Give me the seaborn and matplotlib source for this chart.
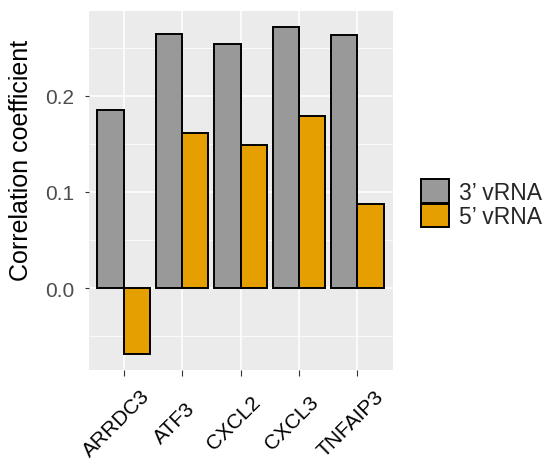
import matplotlib
matplotlib.use("Agg")
import matplotlib.pyplot as plt
import matplotlib.transforms as mtransforms
from matplotlib.patches import Patch
import seaborn as sns
import pandas as pd
import numpy as np

genes = ["ARRDC3", "ATF3", "CXCL2", "CXCL3", "TNFAIP3"]
vrna3 = [0.185, 0.264, 0.254, 0.271, 0.263]
vrna5 = [-0.068, 0.161, 0.149, 0.179, 0.087]
series = ["3\u2019 vRNA", "5\u2019 vRNA"]
colors = ["#999999", "#E69F00"]
yticks = [0.0, 0.1, 0.2]
ytick_labels = ["0.0", "0.1", "0.2"]

df = pd.DataFrame({
    "gene": genes * 2,
    "value": vrna3 + vrna5,
    "series": [series[0]] * len(genes) + [series[1]] * len(genes),
})

sns.set_theme(style="white")
plt.rcParams["font.family"] = ["Liberation Sans", "DejaVu Sans"]

W, H = 554, 464
AX_L, AX_R, AX_T, AX_B = 88.5, 392.5, 12, 371
fig = plt.figure(figsize=(W / 100, H / 100), dpi=100)
ax = fig.add_axes([AX_L / W, 1 - AX_B / H, (AX_R - AX_L) / W, (AX_B - AX_T) / H])
ax.set_facecolor("#EBEBEB")

sns.barplot(data=df, x="gene", y="value", hue="series", order=genes,
            hue_order=series, palette=colors, saturation=1, width=0.9,
            edgecolor="black", linewidth=1.4, ax=ax, legend=False, zorder=3)

allv = vrna3 + vrna5 + [0]
lo, hi = min(allv), max(allv)
pad = 0.05 * (hi - lo)
ax.set_ylim(lo - pad, hi + pad)
ax.set_xlim(-0.6, len(genes) - 0.4)

ax.set_yticks(yticks)
ax.set_yticklabels(ytick_labels)
minor = [-0.05, 0.05, 0.15, 0.25]
ax.set_yticks(minor, minor=True)
ax.grid(True, which="major", color="white", linewidth=1.1, zorder=0)
ax.grid(True, which="minor", axis="y", color="white", linewidth=0.55, zorder=0)
ax.set_axisbelow(True)
for s in ax.spines.values():
    s.set_visible(False)

ax.tick_params(axis="y", which="major", length=3, width=0.8, color="#333333",
               pad=7, labelsize=15, labelcolor="#4D4D4D", left=True)
ax.tick_params(axis="y", which="minor", length=0)
ax.tick_params(axis="x", which="major", length=4, width=0.8, color="#333333",
               pad=34, labelsize=15, labelcolor="black", bottom=True)

for lab in ax.get_xticklabels():
    lab.set_rotation(45)
    lab.set_ha("center")
    lab.set_va("center")
    lab.set_rotation_mode("anchor")
    lab.set_transform(lab.get_transform() +
                      mtransforms.ScaledTranslation(-0.07, 0, fig.dpi_scale_trans))

ax.set_xlabel("")
ax.set_ylabel("Correlation coefficient", fontsize=18, color="black")
ylab = ax.yaxis.label
ylab.set_va("baseline")
ylab.set_ha("center")
ylab.set_rotation_mode("anchor")
ax.yaxis.set_label_coords((28 - AX_L) / (AX_R - AX_L), (AX_B - 160) / (AX_B - AX_T))

handles = [Patch(facecolor=c, edgecolor="black", linewidth=1.4) for c in colors]
fig.legend(handles, series, loc="center left",
           bbox_to_anchor=(420.7 / W, 1 - 204.5 / H),
           frameon=False, fontsize=16.5, handlelength=1.22, handleheight=1.22,
           handletextpad=0.45, labelspacing=0.0, borderpad=0, borderaxespad=0)

fig.savefig("out.png", dpi=100)
